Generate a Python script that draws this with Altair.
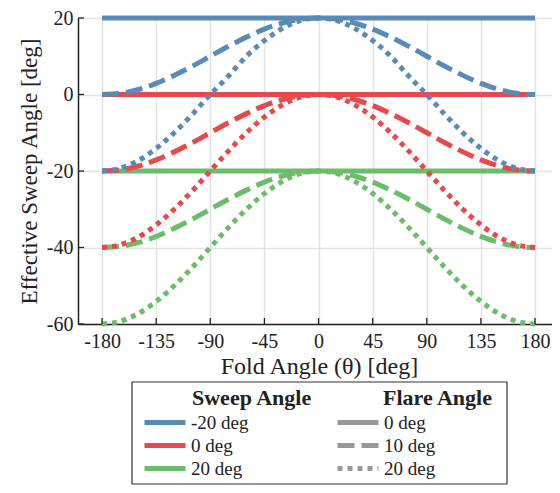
import altair as alt
import pandas as pd

# ---- data ----
fold_angle = [-180, -165, -150, -135, -120, -105, -90, -75, -60, -45, -30, -15, 0,
              15, 30, 45, 60, 75, 90, 105, 120, 135, 150, 165, 180]

sweep_labels = ["-20 deg", "0 deg", "20 deg"]
flare_labels = ["0 deg", "10 deg", "20 deg"]
sweep_colors = ["#5a8bb6", "#e8494c", "#6cbd6b"]

# sweep -20 deg (blue)
blue_f0 = [20, 20, 20, 20, 20, 20, 20, 20, 20, 20, 20, 20, 20,
           20, 20, 20, 20, 20, 20, 20, 20, 20, 20, 20, 20]
blue_f10 = [0, 0.3, 1.3, 2.9, 5, 7.4, 10, 12.6, 15, 17.1, 18.7, 19.7, 20,
            19.7, 18.7, 17.1, 15, 12.6, 10, 7.4, 5, 2.9, 1.3, 0.3, 0]
blue_f20 = [-20, -19.3, -17.3, -14.1, -10, -5.2, 0, 4.8, 10, 14.1, 17.3, 19.3, 20,
            19.3, 17.3, 14.1, 10, 4.8, 0, -5.2, -10, -14.1, -17.3, -19.3, -20]
# sweep 0 deg (red)
red_f0 = [0, 0, 0, 0, 0, 0, 0, 0, 0, 0, 0, 0, 0,
          0, 0, 0, 0, 0, 0, 0, 0, 0, 0, 0, 0]
red_f10 = [-20, -19.7, -18.7, -17.1, -15, -12.6, -10, -7.4, -5, -2.9, -1.3, -0.3, 0,
           -0.3, -1.3, -2.9, -5, -7.4, -10, -12.6, -15, -17.1, -18.7, -19.7, -20]
red_f20 = [-40, -39.3, -37.3, -34.1, -30, -25.2, -20, -14.8, -10, -5.9, -2.7, -0.7, 0,
           -0.7, -2.7, -5.9, -10, -14.8, -20, -25.2, -30, -34.1, -37.3, -39.3, -40]
# sweep 20 deg (green)
green_f0 = [-20, -20, -20, -20, -20, -20, -20, -20, -20, -20, -20, -20, -20,
            -20, -20, -20, -20, -20, -20, -20, -20, -20, -20, -20, -20]
green_f10 = [-40, -39.7, -38.7, -37.1, -35, -32.6, -30, -27.4, -25, -22.9, -21.3, -20.3, -20,
             -20.3, -21.3, -22.9, -25, -27.4, -30, -32.6, -35, -37.1, -38.7, -39.7, -40]
green_f20 = [-60, -59.3, -57.3, -54.1, -50, -45.2, -40, -34.8, -30, -25.9, -22.7, -20.7, -20,
             -20.7, -22.7, -25.9, -30, -34.8, -40, -45.2, -50, -54.1, -57.3, -59.3, -60]

x_ticks = [-180, -135, -90, -45, 0, 45, 90, 135, 180]
y_ticks = [-60, -40, -20, 0, 20]

series = [
    ("20 deg", "0 deg", green_f0), ("20 deg", "10 deg", green_f10), ("20 deg", "20 deg", green_f20),
    ("0 deg", "0 deg", red_f0), ("0 deg", "10 deg", red_f10), ("0 deg", "20 deg", red_f20),
    ("-20 deg", "0 deg", blue_f0), ("-20 deg", "10 deg", blue_f10), ("-20 deg", "20 deg", blue_f20),
]
rows = []
for sw, fl, vals in series:
    for xv, yv in zip(fold_angle, vals):
        rows.append({"fold": xv, "eff": yv, "sweep": sw, "flare": fl})
df = pd.DataFrame(rows)

FONT = "Liberation Serif"
W, H = 474, 306

x_enc = alt.X("fold:Q",
              scale=alt.Scale(domain=[-200, 194.1], nice=False, zero=False),
              axis=alt.Axis(values=x_ticks, title="Fold Angle (θ) [deg]",
                            labelExpr="'' + datum.value",
                            labelPadding=7, titleX=241, titleY=49,
                            titleBaseline="alphabetic"))
y_enc = alt.Y("eff:Q",
              scale=alt.Scale(domain=[-60, 20], nice=False, zero=False),
              axis=alt.Axis(values=y_ticks, title="Effective Sweep Angle [deg]",
                            labelExpr="'' + datum.value",
                            labelPadding=5, titleX=-42, titleY=153,
                            titleBaseline="alphabetic", titleFontSize=23))

legend_common = dict(orient="none", legendY=394, title=None, symbolType="stroke",
                     symbolSize=1681, symbolStrokeWidth=5, clipHeight=21,
                     rowPadding=2, labelOffset=3, labelFont=FONT, labelFontSize=19,
                     labelColor="#222", padding=0)

color_enc = alt.Color("sweep:N",
                      scale=alt.Scale(domain=sweep_labels, range=sweep_colors),
                      legend=alt.Legend(legendX=64, **legend_common))
dash_enc = alt.StrokeDash("flare:N",
                          scale=alt.Scale(domain=flare_labels,
                                          range=[[1, 0], [17, 7], [5, 5]]),
                          legend=alt.Legend(legendX=257, symbolStrokeColor="#999999",
                                            **legend_common))

layers = []
for sw in ["20 deg", "0 deg", "-20 deg"]:
    layers.append(
        alt.Chart(df).transform_filter(alt.datum.sweep == sw)
        .mark_line(strokeWidth=5, interpolate="monotone", strokeCap="butt")
        .encode(x=x_enc, y=y_enc, color=color_enc, strokeDash=dash_enc)
    )

xtick_layer = alt.Chart(pd.DataFrame({"fold": x_ticks})).mark_rule(
    color="#222", strokeWidth=1.3).encode(x=x_enc, y=alt.value(H), y2=alt.value(H - 6))
ytick_layer = alt.Chart(pd.DataFrame({"eff": y_ticks})).mark_rule(
    color="#222", strokeWidth=1.3).encode(y=y_enc, x=alt.value(0), x2=alt.value(6))

one = alt.Data(values=[{"k": 1}])
box = alt.Chart(one).mark_rect(fill="transparent", stroke="#333", strokeWidth=1.2).encode(
    x=alt.value(54), x2=alt.value(429), y=alt.value(364), y2=alt.value(466))
t1 = alt.Chart(one).mark_text(text="Sweep Angle", font=FONT, fontSize=22, fontWeight="bold",
                              align="left", baseline="middle", color="#222").encode(
    x=alt.value(114), y=alt.value(380))
t2 = alt.Chart(one).mark_text(text="Flare Angle", font=FONT, fontSize=22, fontWeight="bold",
                              align="left", baseline="middle", color="#222").encode(
    x=alt.value(305), y=alt.value(380))

chart = alt.layer(*layers, xtick_layer, ytick_layer, box, t1, t2).properties(
    width=W, height=H,
    autosize=alt.AutoSizeParams(type="none"),
    padding={"left": 70, "top": 10, "right": 0, "bottom": 161},
).configure_axis(
    domainColor="#222", domainWidth=1.5,
    gridColor="#e3e3e3", gridWidth=1.5,
    ticks=False, tickSize=0,
    labelFont=FONT, labelFontSize=20, labelColor="#222",
    titleFont=FONT, titleFontSize=24, titleFontWeight="normal", titleColor="#222",
).configure_view(stroke="transparent")

chart.save("out.html", embed_options={"renderer": "svg", "actions": False})
